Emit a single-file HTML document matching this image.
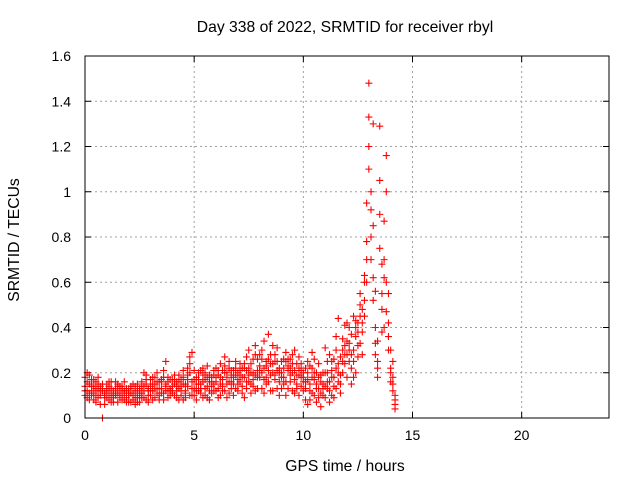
<!DOCTYPE html>
<html><head><meta charset="utf-8"><style>
body{margin:0;background:#fff}
svg text{font-family:"Liberation Sans",sans-serif;font-size:14px;fill:#000}
svg text.ttl{font-size:15.7px}
</style></head><body>
<svg id="chart" width="640" height="480" xmlns="http://www.w3.org/2000/svg">
<rect width="640" height="480" fill="#fff"/>
<text class="ttl" x="345" y="32" text-anchor="middle">Day 338 of 2022, SRMTID for receiver rbyl</text>
<text class="ttl" x="345" y="471" text-anchor="middle">GPS time / hours</text>
<text class="ttl" transform="translate(19,240) rotate(-90)" text-anchor="middle">SRMTID / TECUs</text>
<g id="grid"></g>
<g id="ticks"></g>
<g id="points"></g>
<rect x="85" y="56" width="524" height="362" fill="none" stroke="#000" stroke-width="1"/>
</svg>
<script>
const xTicks=[0,5,10,15,20];
const yTicks=[0,0.2,0.4,0.6,0.8,1,1.2,1.4,1.6];
const yTickLabels=["0","0.2","0.4","0.6","0.8","1","1.2","1.4","1.6"];
const hours=[0.0,0.1,0.2,0.3,0.4,0.5,0.6,0.7,0.8,0.9,1.0,1.1,1.2,1.3,1.4,1.5,1.6,1.7,1.8,1.9,2.0,2.1,2.2,2.3,2.4,2.5,2.6,2.7,2.8,2.9,3.0,3.1,3.2,3.3,3.4,3.5,3.6,3.7,3.8,3.9,4.0,4.1,4.2,4.3,4.4,4.5,4.6,4.7,4.8,4.9,5.0,5.1,5.2,5.3,5.4,5.5,5.6,5.7,5.8,5.9,6.0,6.1,6.2,6.3,6.4,6.5,6.6,6.7,6.8,6.9,7.0,7.1,7.2,7.3,7.4,7.5,7.6,7.7,7.8,7.9,8.0,8.1,8.2,8.3,8.4,8.5,8.6,8.7,8.8,8.9,9.0,9.1,9.2,9.3,9.4,9.5,9.6,9.7,9.8,9.9,10.0,10.1,10.2,10.3,10.4,10.5,10.6,10.7,10.8,10.9,11.0,11.1,11.2,11.3,11.4,11.5,11.6,11.7,11.8,11.9,12.0,12.1,12.2,12.3,12.4,12.5,12.6,12.7,12.8,12.9,13.0,13.1,13.2,13.3,13.4,13.5,13.6,13.7,13.8,13.9,14.0,14.1,14.2];
const tecuA=[0.18,0.12,0.15,0.10,0.17,0.13,0.09,0.14,0.00,0.11,0.13,0.08,0.16,0.12,0.10,0.15,0.09,0.14,0.11,0.13,0.10,0.14,0.08,0.12,0.09,0.13,0.11,0.20,0.15,0.10,0.14,0.12,0.18,0.11,0.16,0.13,0.21,0.15,0.12,0.17,0.14,0.19,0.12,0.16,0.10,0.18,0.15,0.22,0.27,0.13,0.17,0.12,0.20,0.15,0.19,0.10,0.23,0.16,0.14,0.21,0.18,0.13,0.24,0.17,0.20,0.09,0.22,0.19,0.15,0.25,0.20,0.16,0.14,0.22,0.27,0.19,0.24,0.17,0.32,0.21,0.18,0.26,0.22,0.15,0.37,0.24,0.20,0.28,0.13,0.22,0.25,0.18,0.29,0.21,0.16,0.24,0.30,0.19,0.22,0.14,0.20,0.08,0.17,0.23,0.11,0.26,0.15,0.09,0.19,0.13,0.31,0.16,0.07,0.21,0.14,0.36,0.24,0.19,0.30,0.41,0.28,0.33,0.22,0.45,0.36,0.27,0.55,0.48,0.63,0.78,1.48,0.92,1.30,0.56,0.34,1.29,0.68,0.87,1.16,0.55,0.22,0.12,0.04];
const tecuB=[0.10,0.16,0.08,0.14,0.11,0.07,0.15,0.10,0.12,0.06,0.09,0.14,0.07,0.10,0.13,0.07,0.12,0.08,0.16,0.07,0.13,0.07,0.11,0.09,0.15,0.07,0.09,0.12,0.08,0.13,0.10,0.15,0.09,0.13,0.08,0.17,0.11,0.25,0.09,0.13,0.11,0.15,0.09,0.13,0.17,0.08,0.12,0.14,0.10,0.29,0.13,0.08,0.15,0.11,0.22,0.13,0.09,0.19,0.11,0.15,0.12,0.19,0.10,0.14,0.27,0.15,0.11,0.16,0.21,0.13,0.15,0.24,0.11,0.18,0.13,0.30,0.15,0.20,0.12,0.26,0.23,0.13,0.34,0.18,0.16,0.28,0.12,0.19,0.31,0.16,0.13,0.22,0.10,0.26,0.19,0.12,0.17,0.24,0.10,0.18,0.12,0.22,0.06,0.15,0.29,0.10,0.20,0.13,0.05,0.15,0.09,0.25,0.12,0.18,0.09,0.22,0.16,0.11,0.35,0.24,0.18,0.40,0.15,0.30,0.20,0.42,0.33,0.38,0.45,0.70,1.20,1.00,0.85,0.40,0.25,1.05,0.38,0.62,0.47,0.30,0.30,0.18,0.08];
const tecuC=[0.14,0.09,0.19,0.12,0.08,0.16,0.12,0.06,0.13,0.09,0.15,0.11,0.10,0.07,0.16,0.11,0.14,0.10,0.08,0.12,0.07,0.11,0.15,0.06,0.12,0.10,0.14,0.09,0.17,0.07,0.17,0.08,0.13,0.20,0.10,0.16,0.08,0.12,0.18,0.10,0.17,0.10,0.16,0.08,0.14,0.21,0.09,0.17,0.20,0.10,0.10,0.18,0.12,0.21,0.09,0.17,0.14,0.08,0.18,0.12,0.22,0.09,0.15,0.21,0.12,0.18,0.25,0.13,0.10,0.19,0.12,0.19,0.22,0.09,0.21,0.16,0.11,0.26,0.19,0.13,0.28,0.20,0.11,0.25,0.21,0.12,0.32,0.25,0.21,0.10,0.20,0.15,0.25,0.13,0.22,0.28,0.11,0.15,0.27,0.21,0.16,0.13,0.25,0.08,0.18,0.20,0.07,0.24,0.16,0.10,0.20,0.13,0.28,0.10,0.26,0.13,0.44,0.27,0.20,0.32,0.42,0.25,0.37,0.18,0.40,0.32,0.50,0.28,0.60,0.95,1.33,0.70,0.52,0.28,0.18,0.90,0.48,0.40,1.00,0.36,0.16,0.25,0.06];
const tecuD=[0.12,0.20,0.11,0.17,0.14,0.10,0.18,0.12,0.15,0.10,0.12,0.16,0.13,0.09,0.11,0.14,0.10,0.13,0.12,0.09,0.11,0.13,0.10,0.14,0.07,0.11,0.16,0.14,0.19,0.12,0.12,0.18,0.15,0.16,0.13,0.11,0.18,0.14,0.16,0.12,0.12,0.17,0.14,0.19,0.12,0.15,0.11,0.19,0.24,0.16,0.21,0.15,0.17,0.13,0.16,0.20,0.18,0.12,0.16,0.19,0.16,0.21,0.18,0.12,0.23,0.20,0.16,0.21,0.18,0.22,0.17,0.21,0.18,0.24,0.16,0.22,0.20,0.14,0.28,0.18,0.21,0.30,0.17,0.23,0.26,0.19,0.24,0.17,0.25,0.20,0.18,0.26,0.16,0.23,0.26,0.20,0.21,0.13,0.19,0.24,0.18,0.16,0.20,0.12,0.22,0.17,0.13,0.18,0.11,0.20,0.14,0.20,0.16,0.25,0.18,0.30,0.20,0.15,0.25,0.28,0.34,0.30,0.28,0.25,0.43,0.38,0.45,0.42,0.52,0.60,1.10,0.80,0.62,0.33,0.22,0.75,0.55,0.70,0.60,0.42,0.20,0.15,0.10];
const NS="http://www.w3.org/2000/svg";
const X0=85,X1=609,Y0=418,Y1=56;
function xs(v){return X0+(v-0)/(24-0)*(X1-X0);}
function ys(v){return Y0-(v-0)/(1.6-0)*(Y0-Y1);}
function mk(tag,attrs,parent){const e=document.createElementNS(NS,tag);for(const k in attrs)e.setAttribute(k,attrs[k]);parent.appendChild(e);return e;}
const grid=document.getElementById('grid'),ticks=document.getElementById('ticks'),pts=document.getElementById('points');
xTicks.forEach(t=>{const x=xs(t);
 if(t>0){const g=mk('line',{x1:x,x2:x,y1:Y0,y2:Y1,stroke:'#a0a0a0','stroke-dasharray':'2,3'},grid);
 
 }
 mk('line',{x1:x,x2:x,y1:Y0,y2:Y0-6,stroke:'#000'},ticks);
 mk('line',{x1:x,x2:x,y1:Y1,y2:Y1+6,stroke:'#000'},ticks);
 const l=mk('text',{x:x,y:Y0+22,'text-anchor':'middle'},ticks);l.textContent=String(t);
 
 
});
yTicks.forEach((t,i)=>{const y=ys(t);
 if(t>0&&t<1.6){const g=mk('line',{x1:X0,x2:X1,y1:y,y2:y,stroke:'#a0a0a0','stroke-dasharray':'2,3'},grid);
 
 }
 mk('line',{x1:X0,x2:X0+6,y1:y,y2:y,stroke:'#000'},ticks);
 mk('line',{x1:X1,x2:X1-6,y1:y,y2:y,stroke:'#000'},ticks);
 const l=mk('text',{x:X0-14,y:y+5,'text-anchor':'end'},ticks);l.textContent=yTickLabels[i];
 
 
});
[tecuA,tecuB,tecuC,tecuD].forEach(series=>{
 series.forEach((v,i)=>{const x=xs(hours[i]),y=ys(v);
  const p=mk('path',{d:`M${x-3.5},${y}H${x+3.5}M${x},${y-3.5}V${y+3.5}`,stroke:'#ff0000','stroke-width':1.1,fill:'none'},pts);
  
  
 });
});
</script>
</body></html>
